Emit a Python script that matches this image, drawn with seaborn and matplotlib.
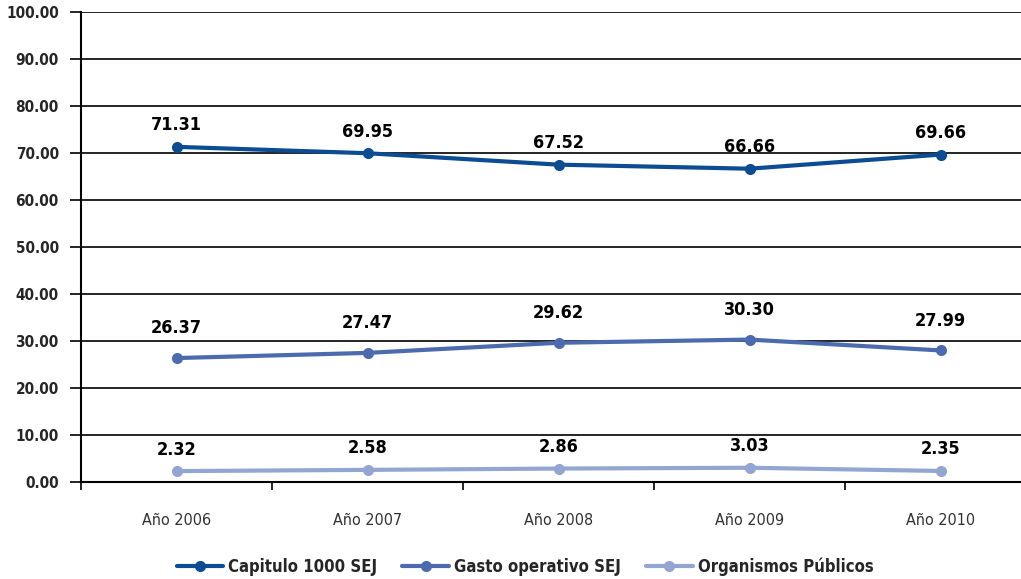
import pandas as pd
import seaborn as sns
import matplotlib.pyplot as plt

# datos
years = ["Año 2006", "Año 2007", "Año 2008", "Año 2009", "Año 2010"]
capitulo = [71.31, 69.95, 67.52, 66.66, 69.66]
gasto = [26.37, 27.47, 29.62, 30.30, 27.99]
organismos = [2.32, 2.58, 2.86, 3.03, 2.35]
series = ["Capitulo 1000 SEJ", "Gasto operativo SEJ", "Organismos Públicos"]
colors = ["#0B4C92", "#4C6BAE", "#93A5D1"]

df = pd.DataFrame({
    "year": years * 3,
    "value": capitulo + gasto + organismos,
    "serie": [s for s in series for _ in years],
})
df["x"] = [i for _ in series for i in range(len(years))]

sns.set_style("white")
plt.rcParams['font.family'] = ['DejaVu Sans']
plt.rcParams['font.stretch'] = 'condensed'

fig = plt.figure(figsize=(10.21, 5.79), dpi=100)
ax = fig.add_axes([81 / 1021, 1 - 482 / 579, 955 / 1021, 470 / 579])

sns.lineplot(data=df, x="x", y="value", hue="serie", palette=colors,
             marker="o", markersize=8, markeredgewidth=0, linewidth=3,
             ax=ax, legend=True)

# etiquetas de valores (la serie del medio va un poco más arriba)
offsets = {series[0]: 9, series[1]: 15, series[2]: 9}
for _, r in df.iterrows():
    ax.annotate(f"{r['value']:.2f}", (r["x"], r["value"]),
                xytext=(0, offsets[r["serie"]]),
                textcoords="offset points", ha="center", va="bottom",
                fontsize=13, fontweight="bold", color="black")

ax.set_xlim(-0.5, 4.5)
ax.set_ylim(0, 100)
ax.set_yticks(range(0, 101, 10))
ax.set_yticklabels([f"{v:.2f}" for v in range(0, 101, 10)],
                   fontsize=11, fontweight="bold")
ax.set_xticks(range(len(years)))
ax.set_xticklabels(years, fontsize=11.5, color="#333333")
ax.set_xticks([i - 0.5 for i in range(len(years) + 1)], minor=True)
ax.tick_params(axis="x", which="major", length=0, pad=22)
ax.tick_params(axis="x", which="minor", length=6, width=1.2, color="black",
               direction="out", bottom=True)
ax.tick_params(axis="y", length=8, width=1.2, color="black", direction="out",
               left=True, pad=8)
ax.grid(axis="y", color="black", linewidth=1.2)
ax.set_axisbelow(True)
for s in ["top", "right"]:
    ax.spines[s].set_visible(False)
for s in ["left", "bottom"]:
    ax.spines[s].set_color("black")
    ax.spines[s].set_linewidth(1.5)
ax.set_xlabel("")
ax.set_ylabel("")

handles, labels = ax.get_legend_handles_labels()
leg = ax.legend(handles, labels, loc="center", ncol=3, frameon=False,
                handlelength=2.8, columnspacing=1.5, handletextpad=0.3,
                prop={"size": 12, "weight": "bold"})
leg.set_bbox_to_anchor((525 / 1021, 12 / 579), transform=fig.transFigure)

fig.savefig("out.png", dpi=100)
